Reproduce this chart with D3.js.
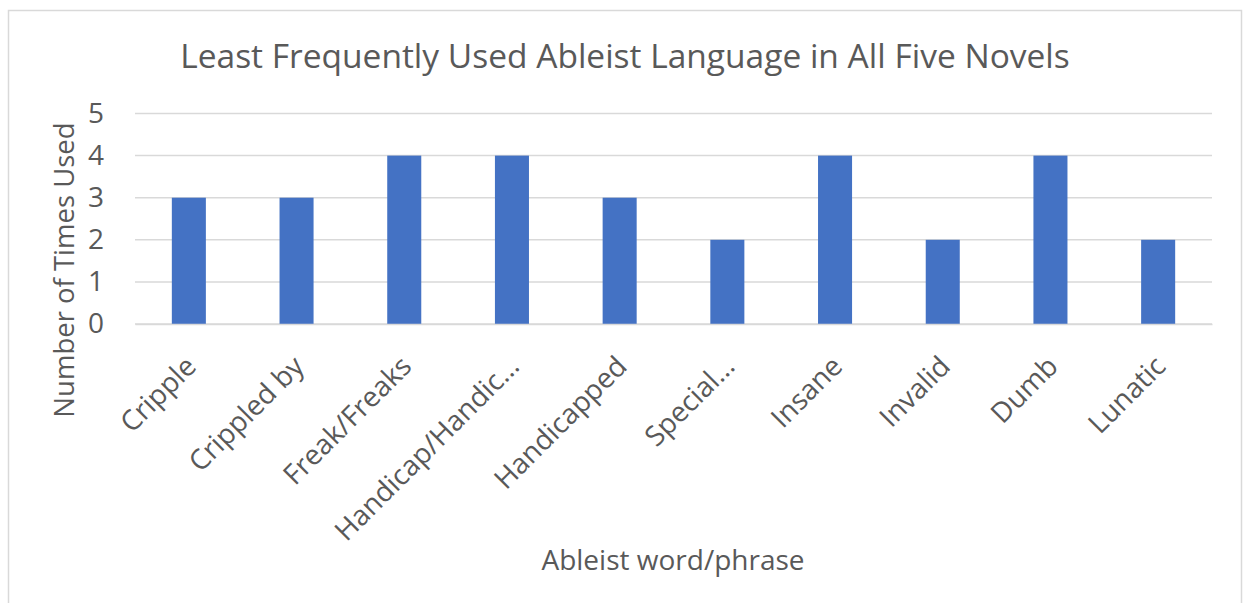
<!DOCTYPE html>
<html>
<head>
<meta charset="utf-8">
<script src="https://cdn.jsdelivr.net/npm/d3@7"></script>
<style>
  body { margin: 0; background: #fff; }
  text { font-family: "Open Sans", sans-serif; fill: #595959; }
</style>
</head>
<body>
<div id="chart"></div>
<script>
// data
const categories = ["Cripple", "Crippled by", "Freak/Freaks", "Handicap/Handic\u2026", "Handicapped",
    "Special\u2026", "Insane", "Invalid", "Dumb", "Lunatic"];
const counts = [3, 3, 4, 4, 3, 2, 4, 2, 4, 2];
const yTicks = [0, 1, 2, 3, 4, 5];

const W = 1246, H = 603;
const margin = { top: 113.5, right: 34, bottom: 279, left: 135 };
const width = W - margin.left - margin.right;
const height = H - margin.top - margin.bottom;

const root = d3.select('#chart').append('svg')
    .attr('width', W)
    .attr('height', H);

// chart border
root.append('rect')
    .attr('x', 8.5).attr('y', 10.5)
    .attr('width', 1233).attr('height', 620)
    .attr('fill', '#fff')
    .attr('stroke', '#d9d9d9')
    .attr('stroke-width', 1.5);

const svg = root.append('g')
    .attr('transform', `translate(${margin.left},${margin.top})`);

const x = d3.scaleBand()
    .domain(categories)
    .range([0, width])
    .paddingInner(0.684)
    .paddingOuter(0.342);

const y = d3.scaleLinear()
    .domain([0, 5])
    .range([height, 0]);

// gridlines
svg.append('g')
    .selectAll('line')
    .data(yTicks)
    .join('line')
    .attr('x1', 0)
    .attr('x2', width)
    .attr('y1', d => y(d))
    .attr('y2', d => y(d))
    .attr('stroke', '#d9d9d9')
    .attr('stroke-width', 1.5);

// bars
svg.append('g')
    .selectAll('rect')
    .data(counts)
    .join('rect')
    .attr('x', (d, i) => x(categories[i]))
    .attr('y', d => y(d))
    .attr('width', x.bandwidth())
    .attr('height', d => height - y(d))
    .attr('fill', '#4472c4');

// y axis
const yAxis = svg.append('g')
    .call(d3.axisLeft(y).tickValues(yTicks).tickFormat(d3.format('d')).tickSize(0).tickPadding(31));
yAxis.select('.domain').remove();
yAxis.selectAll('text')
    .style('font-size', '28px')
    .style('font-family', '"Open Sans", sans-serif')
    .attr('fill', '#595959');

// x axis
const xAxis = svg.append('g')
    .attr('transform', `translate(0, ${height})`)
    .call(d3.axisBottom(x).tickSize(0));
xAxis.select('.domain').attr('stroke', '#d9d9d9').attr('stroke-width', 1.5);
xAxis.selectAll('text')
    .style('font-size', '28px')
    .style('font-family', '"Open Sans", sans-serif')
    .attr('fill', '#595959')
    .attr('text-anchor', 'end')
    .attr('dy', '0.35em')
    .attr('transform', 'translate(0, 35) rotate(-45)');

// title
root.append('text')
    .attr('x', 625)
    .attr('y', 68)
    .attr('text-anchor', 'middle')
    .style('font-size', '33.5px')
    .text('Least Frequently Used Ableist Language in All Five Novels');

// axis titles
root.append('text')
    .attr('x', 673)
    .attr('y', 570)
    .attr('text-anchor', 'middle')
    .style('font-size', '28px')
    .text('Ableist word/phrase');

root.append('text')
    .attr('transform', 'translate(74, 270) rotate(-90)')
    .attr('text-anchor', 'middle')
    .style('font-size', '27.5px')
    .text('Number of Times Used');
</script>
</body>
</html>
